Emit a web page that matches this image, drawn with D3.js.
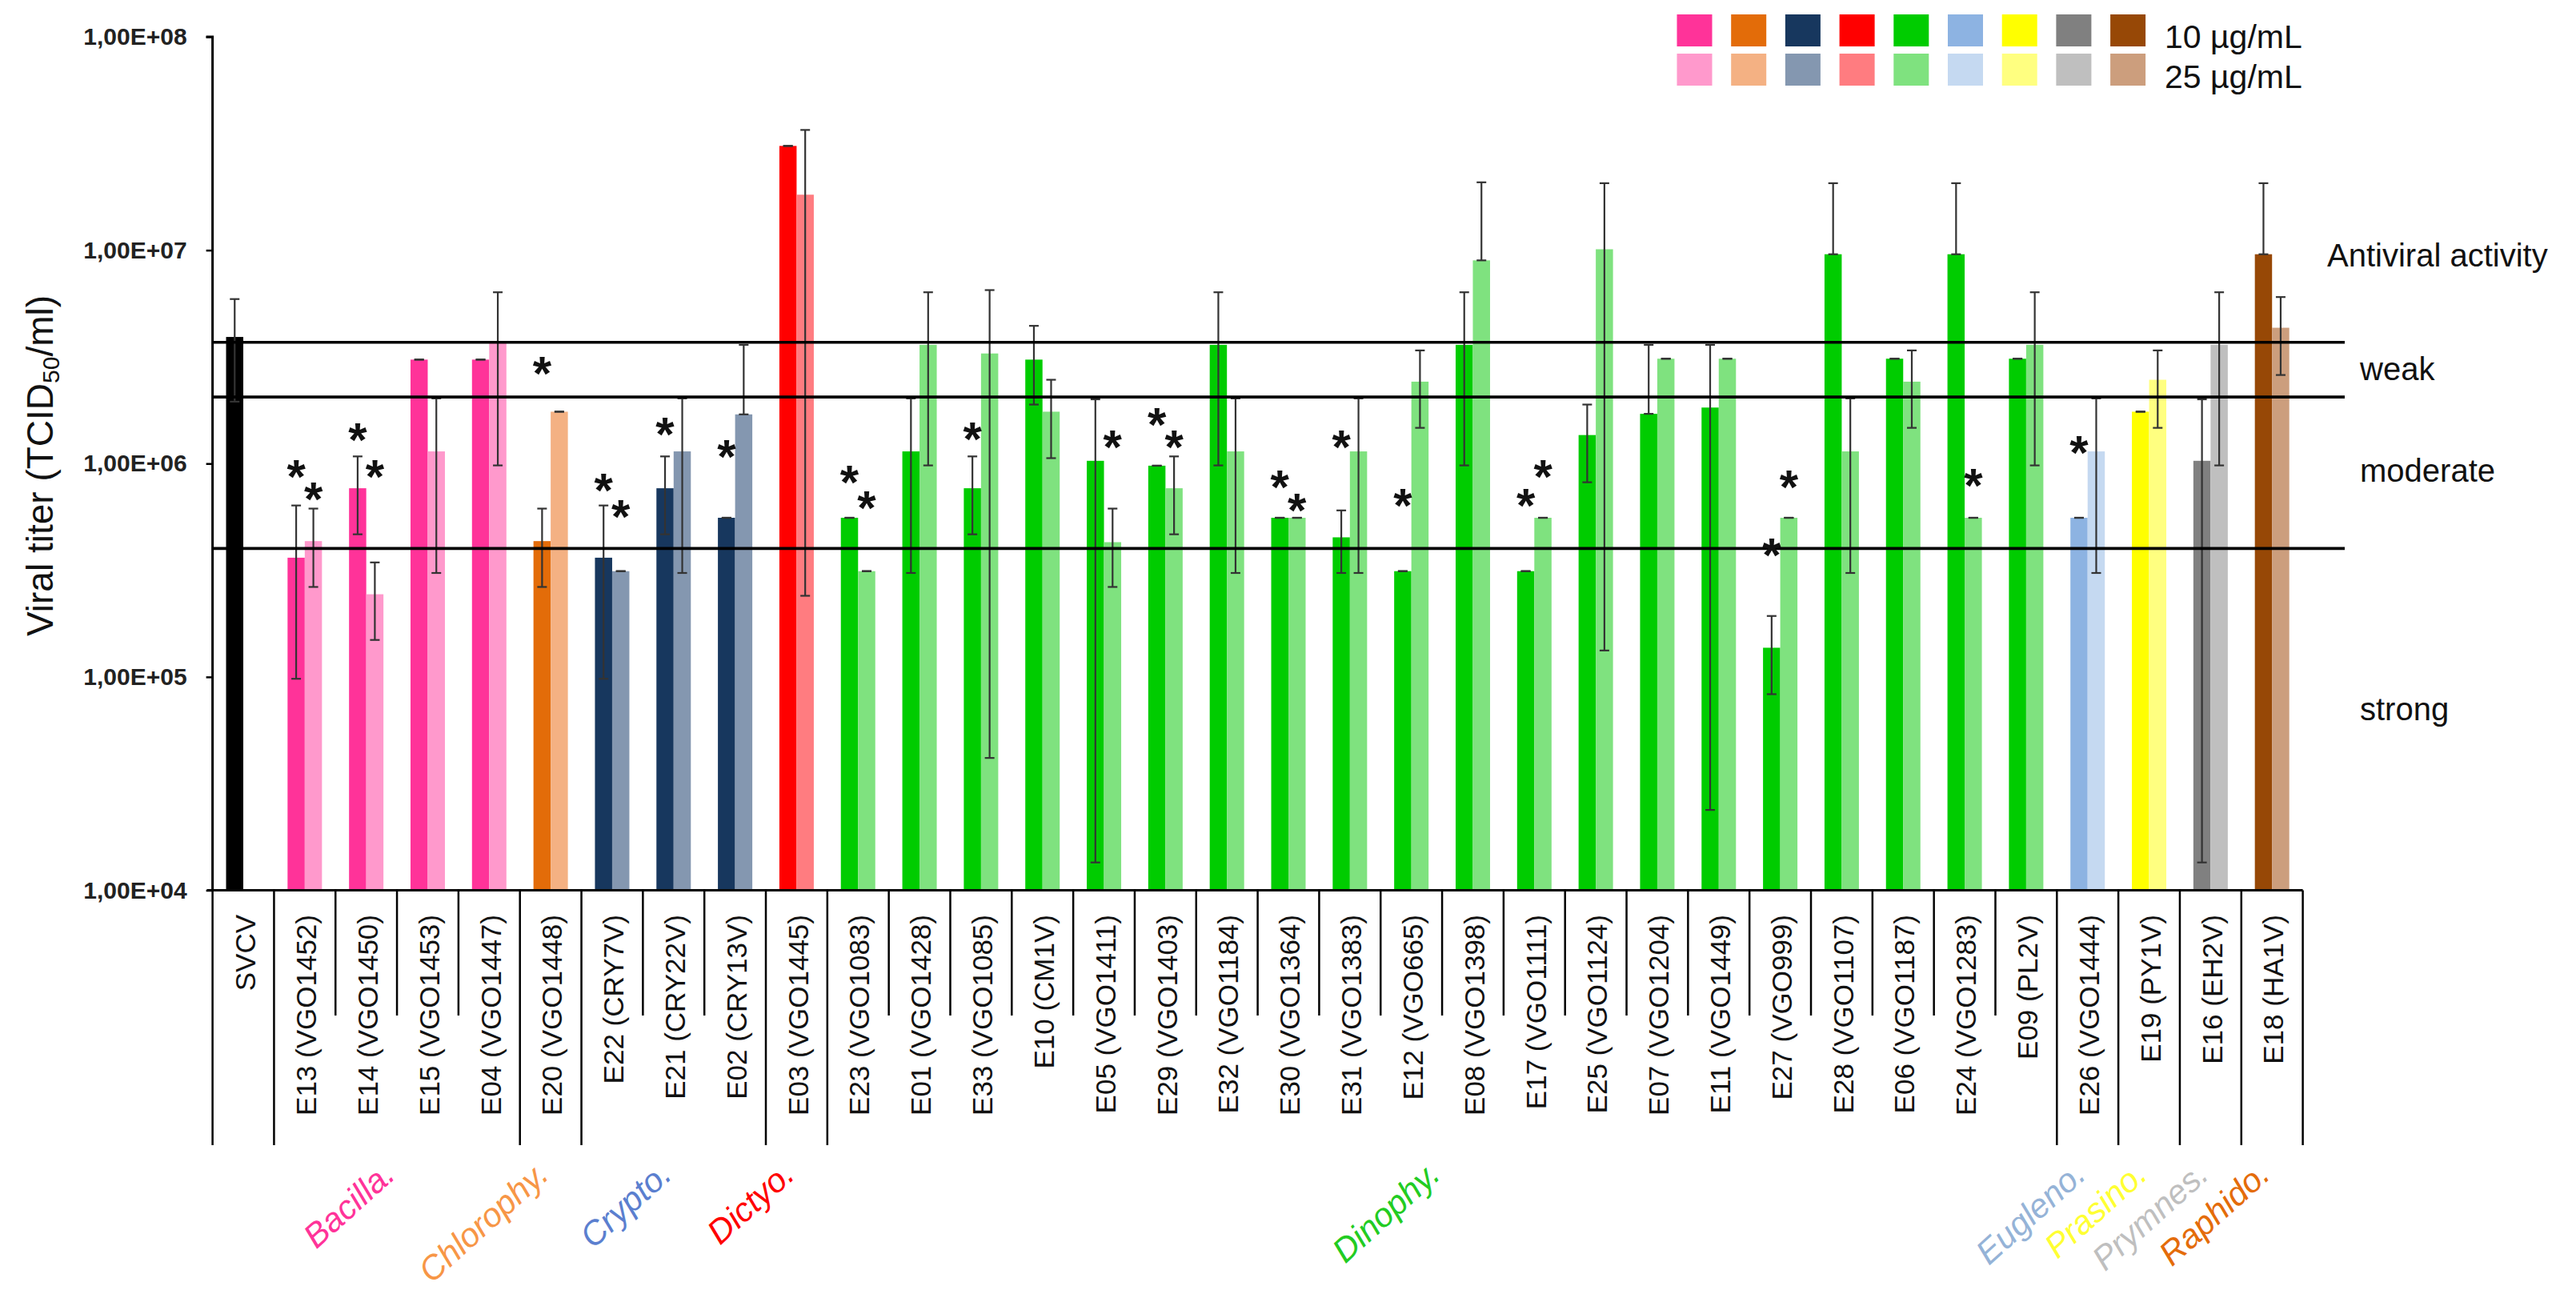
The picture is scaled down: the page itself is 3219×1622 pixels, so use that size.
<!DOCTYPE html>
<html>
<head>
<meta charset="utf-8">
<script src="https://cdn.jsdelivr.net/npm/d3@7"></script>
<style>
  body { margin: 0; background: #fff; }
  svg { display: block; font-family: "Liberation Sans", Arial, sans-serif; }
</style>
</head>
<body>
<svg id="chart" width="3219" height="1622"></svg>
<script>
// ---------------- DATA ----------------
const categories = ["SVCV","E13 (VGO1452)","E14 (VGO1450)","E15 (VGO1453)","E04 (VGO1447)","E20 (VGO1448)",
  "E22 (CRY7V)","E21 (CRY22V)","E02 (CRY13V)","E03 (VGO1445)","E23 (VGO1083)","E01 (VGO1428)","E33 (VGO1085)",
  "E10 (CM1V)","E05 (VGO1411)","E29 (VGO1403)","E32 (VGO1184)","E30 (VGO1364)","E31 (VGO1383)","E12 (VGO665)",
  "E08 (VGO1398)","E17 (VGO1111)","E25 (VGO1124)","E07 (VGO1204)","E11 (VGO1449)","E27 (VGO999)","E28 (VGO1107)",
  "E06 (VGO1187)","E24 (VGO1283)","E09 (PL2V)","E26 (VGO1444)","E19 (PY1V)","E16 (EH2V)","E18 (HA1V)"];

// group index of each category (0 = control)
const groupOfCat = [0,1,1,1,1,2,3,3,3,4,5,5,5,5,5,5,5,5,5,5,5,5,5,5,5,5,5,5,5,5,6,7,8,9];

// 10 µg/mL
const value10 = [3.92e6,3.62e5,7.66e5,3.07e6,3.07e6,4.33e5,3.62e5,7.66e5,5.57e5,3.08e7,5.57e5,1.14e6,7.66e5,
  3.07e6,1.03e6,9.77e5,3.6e6,5.57e5,4.51e5,3.13e5,3.6e6,3.13e5,1.36e6,1.71e6,1.83e6,1.37e5,9.57e6,3.1e6,9.57e6,
  3.1e6,5.57e5,1.75e6,1.03e6,9.57e6];
const errHi10 = [5.9e6,6.36e5,1.08e6,3.07e6,3.07e6,6.15e5,6.36e5,1.08e6,5.57e5,3.08e7,5.57e5,2.02e6,1.08e6,
  4.42e6,2.0e6,9.77e5,6.35e6,5.57e5,6.03e5,3.13e5,6.35e6,3.13e5,1.89e6,3.6e6,3.6e6,1.93e5,2.06e7,3.1e6,2.06e7,
  3.1e6,5.57e5,1.75e6,2.0e6,2.06e7];
const errLo10 = [1.95e6,9.8e4,4.66e5,3.07e6,3.07e6,2.64e5,9.8e4,4.66e5,5.57e5,3.08e7,5.57e5,3.07e5,4.66e5,
  1.89e6,1.35e4,9.77e5,9.8e5,5.57e5,3.07e5,3.13e5,9.8e5,3.13e5,8.17e5,1.71e6,2.38e4,8.3e4,9.57e6,3.1e6,9.57e6,
  3.1e6,5.57e5,1.75e6,1.35e4,9.57e6];

// 25 µg/mL
const value25 = [null,4.33e5,2.44e5,1.14e6,3.67e6,1.75e6,3.13e5,1.14e6,1.70e6,1.82e7,3.13e5,3.6e6,3.28e6,
  1.75e6,4.28e5,7.66e5,1.14e6,5.57e5,1.14e6,2.42e6,8.96e6,5.57e5,1.01e7,3.1e6,3.1e6,5.57e5,1.14e6,2.42e6,5.57e5,
  3.6e6,1.14e6,2.47e6,3.6e6,4.33e6];
const errHi25 = [null,6.15e5,3.44e5,2.02e6,6.35e6,1.75e6,3.13e5,2.02e6,3.6e6,3.66e7,3.13e5,6.35e6,6.5e6,
  2.47e6,6.15e5,1.08e6,2.02e6,5.57e5,2.02e6,3.39e6,2.08e7,5.57e5,2.06e7,3.1e6,3.1e6,5.57e5,2.02e6,3.39e6,5.57e5,
  6.35e6,2.02e6,3.39e6,6.35e6,6.03e6];
const errLo25 = [null,2.64e5,1.49e5,3.07e5,9.8e5,1.75e6,3.13e5,3.07e5,1.70e6,2.40e5,3.13e5,9.8e5,4.17e4,
  1.06e6,2.64e5,4.66e5,3.07e5,5.57e5,3.07e5,1.47e6,8.96e6,5.57e5,1.33e5,3.1e6,3.1e6,5.57e5,3.07e5,1.47e6,5.57e5,
  9.8e5,3.07e5,1.47e6,9.8e5,2.6e6];

// significance stars: category index, series (0 = 10 µg/mL, 1 = 25 µg/mL), level (titer at star centre)
const starCat    = [1,1,2,2,5,6,6,7,8,10,10,12,14,15,15,17,17,18,19,21,21,25,25,28,30];
const starSeries = [0,1,0,1,0,0,1,0,0,0,1,0,1,0,1,0,1,0,0,0,1,0,1,1,0];
const starLevel  = [9.75e5,7.65e5,1.45e6,9.75e5,2.97e6,8.4e5,6.32e5,1.55e6,1.21e6,9.16e5,7.0e5,1.47e6,1.34e6,
  1.71e6,1.34e6,8.7e5,6.78e5,1.34e6,7.15e5,7.15e5,9.75e5,4.18e5,8.7e5,8.86e5,1.27e6];

const groupNames = ["SVCV","Bacilla.","Chlorophy.","Crypto.","Dictyo.","Dinophy.","Eugleno.","Prasino.","Prymnes.","Raphido."];
const colors10 = ["#000000","#FF3399","#E36C09","#17375E","#FF0000","#00CC00","#8DB3E2","#FFFF00","#808080","#974806"];
const colors25 = ["#000000","#FF99CC","#F4B183","#8497B0","#FF7C80","#7FE27F","#C5D9F1","#FFFF80","#BFBFBF","#CC9E7D"];
const groupLabelColors = [null,"#FF3399","#F79646","#5B7FCF","#FF0000","#22CC22","#95B3D7","#FFFF33","#BFBFBF","#E46C0A"];

const thresholds = [3.7e6, 2.05e6, 4.0e5];
const activityLabels = ["Antiviral activity","weak","moderate","strong"];
const activityLevels = [9.5e6, 2.78e6, 9.27e5, 7.1e4];
const yTicks = [1e4,1e5,1e6,1e7,1e8];
const seriesNames = ["10 \u00b5g/mL","25 \u00b5g/mL"];

// ---------------- LAYOUT ----------------
const svg = d3.select("#chart");
const W = 3219, H = 1622;
const plotLeft = 265.6, plotRight = 2877.6, plotTop = 46, plotBottom = 1112.5;
const font = '"Liberation Sans", Arial, sans-serif';

svg.append("rect").attr("width", W).attr("height", H).attr("fill", "#fff");

const x = d3.scaleBand().domain(d3.range(categories.length)).range([plotLeft, plotRight]).padding(0);
const barW = 21.5;
const x1 = d3.scaleBand().domain([0, 1]).range([x.bandwidth()/2 - barW, x.bandwidth()/2 + barW]).padding(0);
const y = d3.scaleLog().domain([1e4, 1e8]).range([plotBottom, plotTop]);

const thresholdEnd = 2930;

// bars
const bars = [];
categories.forEach((c, i) => {
  const g = groupOfCat[i];
  [[value10, errHi10, errLo10, colors10], [value25, errHi25, errLo25, colors25]].forEach((s, k) => {
    if (s[0][i] == null) return;
    bars.push({i, k, v: s[0][i], hi: s[1][i], lo: s[2][i], color: s[3][g]});
  });
});

svg.append("g").selectAll("rect").data(bars).join("rect")
  .attr("x", d => x(d.i) + x1(d.k))
  .attr("y", d => y(d.v))
  .attr("width", x1.bandwidth())
  .attr("height", d => plotBottom - y(d.v))
  .attr("fill", d => d.color);

// error bars
const eg = svg.append("g").attr("stroke", "#333").attr("stroke-width", 2.2).attr("fill", "none");
bars.forEach(d => {
  const cx = x(d.i) + x1(d.k) + x1.bandwidth()/2;
  const yh = y(d.hi), yl = y(d.lo);
  eg.append("line").attr("x1", cx).attr("x2", cx).attr("y1", yh).attr("y2", yl);
  eg.append("line").attr("x1", cx - 6).attr("x2", cx + 6).attr("y1", yh).attr("y2", yh);
  eg.append("line").attr("x1", cx - 6).attr("x2", cx + 6).attr("y1", yl).attr("y2", yl);
});

// threshold lines
svg.append("g").selectAll("line").data(thresholds).join("line")
  .attr("x1", plotLeft).attr("x2", thresholdEnd)
  .attr("y1", d => y(d)).attr("y2", d => y(d))
  .attr("stroke", "#000").attr("stroke-width", 3.6);

// y axis
const yAxis = d3.axisLeft(y).tickValues(yTicks).tickSize(8).tickPadding(24)
  .tickFormat(d => "1,00E+0" + Math.round(Math.log10(d)));
const ya = svg.append("g").attr("transform", `translate(${plotLeft},0)`).call(yAxis);
ya.select(".domain").attr("stroke", "#000").attr("stroke-width", 3).attr("d", `M-8,${plotTop}H0V${plotBottom}`);
ya.selectAll(".tick line").attr("stroke", "#000").attr("stroke-width", 2.5);
ya.selectAll(".tick text").attr("font-family", font).attr("font-size", 30).attr("font-weight", "bold").attr("fill", "#222");

// y title
svg.append("text")
  .attr("transform", "translate(66,582) rotate(-90)")
  .attr("text-anchor", "middle")
  .attr("font-family", font).attr("font-size", 46).attr("fill", "#111")
  .call(t => {
    t.append("tspan").text("Viral titer (TCID");
    t.append("tspan").attr("font-size", 30).attr("dy", 8).text("50");
    t.append("tspan").attr("dy", -8).text("/ml)");
  });

// x axis line
svg.append("line").attr("x1", plotLeft - 7).attr("x2", plotRight).attr("y1", plotBottom).attr("y2", plotBottom)
  .attr("stroke", "#000").attr("stroke-width", 3);

// category separators
const longBounds = new Set([0, 1, 5, 6, 9, 10, 30, 31, 32, 33, 34]);
const bounds = d3.range(categories.length + 1);
svg.append("g").selectAll("line").data(bounds).join("line")
  .attr("x1", b => b < categories.length ? x(b) : plotRight)
  .attr("x2", b => b < categories.length ? x(b) : plotRight)
  .attr("y1", plotBottom)
  .attr("y2", b => longBounds.has(b) ? 1431 : 1269)
  .attr("stroke", "#000").attr("stroke-width", 2.5);

// category labels
svg.append("g").selectAll("text").data(categories).join("text")
  .attr("transform", (d, i) => `translate(${x(i) + x.bandwidth()/2 + (i === 0 ? 3 : 2)},1143) rotate(-90)`)
  .attr("text-anchor", "end")
  .attr("dy", "0.35em")
  .attr("font-family", font).attr("font-size", 35).attr("fill", "#111")
  .text(d => d);

// group labels
const groupRanges = d3.range(1, groupNames.length).map(g => {
  const idx = d3.range(categories.length).filter(i => groupOfCat[i] === g);
  return {g, cx: (x(idx[0]) + x(idx[idx.length - 1]) + x.bandwidth()) / 2};
});
svg.append("g").selectAll("text").data(groupRanges).join("text")
  .attr("transform", d => `translate(${d.cx - 10},1460) rotate(-42)`)
  .attr("text-anchor", "end")
  .attr("dy", "0.35em")
  .attr("font-family", font).attr("font-size", 42).attr("font-style", "italic")
  .attr("fill", d => groupLabelColors[d.g])
  .text(d => groupNames[d.g]);

// stars
svg.append("g").selectAll("text").data(starCat).join("text")
  .attr("x", (c, j) => x(c) + x1(starSeries[j]) + x1.bandwidth()/2)
  .attr("y", (c, j) => y(starLevel[j]) + 34)
  .attr("text-anchor", "middle")
  .attr("font-family", font).attr("font-size", 60).attr("font-weight", "bold").attr("fill", "#111")
  .text("*");

// activity labels (right)
svg.append("g").selectAll("text").data(activityLabels).join("text")
  .attr("x", (d, i) => i === 0 ? 2908 : 2949)
  .attr("y", (d, i) => y(activityLevels[i]))
  .attr("dy", "0.35em")
  .attr("font-family", font).attr("font-size", 40).attr("fill", "#111")
  .text(d => d);

// legend
const legendGroups = d3.range(1, groupNames.length);
const lg = svg.append("g");
legendGroups.forEach((g, j) => {
  const lx = 2095.5 + j * 67.7;
  lg.append("rect").attr("x", lx).attr("y", 18).attr("width", 44).attr("height", 40).attr("fill", colors10[g]);
  lg.append("rect").attr("x", lx).attr("y", 67).attr("width", 44).attr("height", 40).attr("fill", colors25[g]);
});
lg.selectAll("text").data(seriesNames).join("text")
  .attr("x", 2705).attr("y", (d, i) => i === 0 ? 60 : 109.5)
  .attr("font-family", font).attr("font-size", 41).attr("fill", "#111")
  .text(d => d);
</script>
</body>
</html>
